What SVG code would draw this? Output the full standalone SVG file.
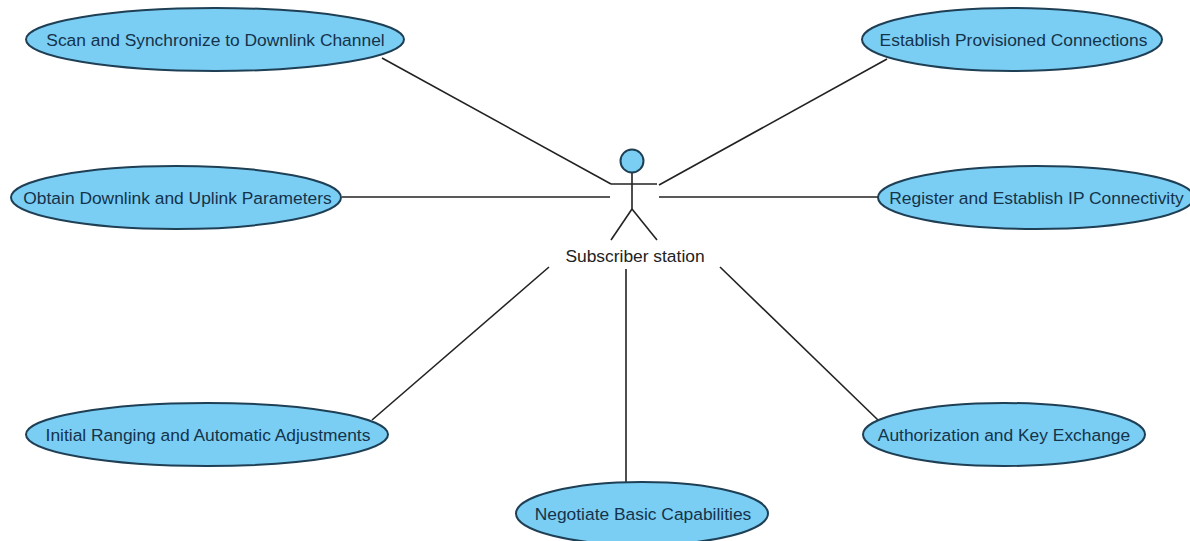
<svg xmlns="http://www.w3.org/2000/svg" width="1190" height="541" viewBox="0 0 1190 541">
<style>
.uc{fill:#7acef4;stroke:#1f3f55;stroke-width:2}
.t{font-family:"Liberation Sans",Arial,sans-serif;font-size:17.4px;fill:#15334a;text-anchor:middle}
.c line,.a line{stroke:#222;stroke-width:1.6;fill:none}
</style>
<rect width="1190" height="541" fill="#fff"/>
<g id="connectors" class="c">
<line x1="382" y1="58" x2="611" y2="184"/>
<line x1="342" y1="197" x2="610" y2="197"/>
<line x1="372" y1="420" x2="549" y2="267"/>
<line x1="626" y1="269" x2="626" y2="482"/>
<line x1="720" y1="267" x2="878" y2="420"/>
<line x1="659" y1="197" x2="879" y2="197"/>
<line x1="659" y1="185" x2="887" y2="59"/>
</g>
<g id="actor" class="a">
<circle cx="632" cy="161" r="11.5" class="uc"/>
<line x1="632" y1="173" x2="632" y2="209"/>
<line x1="611" y1="184" x2="657" y2="184"/>
<line x1="632" y1="209" x2="611" y2="240"/>
<line x1="632" y1="209" x2="657" y2="240"/>
<text class="t" x="635" y="262" style="fill:#222">Subscriber station</text>
</g>
<g id="uc1"><ellipse class="uc" cx="215" cy="39.500" rx="189" ry="31.500"/><text class="t" x="215.500" y="45.500">Scan and Synchronize to Downlink Channel</text></g>
<g id="uc2"><ellipse class="uc" cx="176" cy="197.500" rx="165" ry="31.500"/><text class="t" x="177.500" y="203.500">Obtain Downlink and Uplink Parameters</text></g>
<g id="uc3"><ellipse class="uc" cx="207" cy="434.500" rx="181" ry="31.500"/><text class="t" x="208" y="440.500">Initial Ranging and Automatic Adjustments</text></g>
<g id="uc4"><ellipse class="uc" cx="642" cy="513.500" rx="126" ry="31.500"/><text class="t" x="643" y="519.500">Negotiate Basic Capabilities</text></g>
<g id="uc5"><ellipse class="uc" cx="1004" cy="434.500" rx="141" ry="31.500"/><text class="t" x="1004" y="440.500">Authorization and Key Exchange</text></g>
<g id="uc6"><ellipse class="uc" cx="1036" cy="197.500" rx="158" ry="31.500"/><text class="t" x="1036.500" y="203.500">Register and Establish IP Connectivity</text></g>
<g id="uc7"><ellipse class="uc" cx="1012" cy="39.500" rx="150" ry="31.500"/><text class="t" x="1013.500" y="45.500">Establish Provisioned Connections</text></g>
</svg>
